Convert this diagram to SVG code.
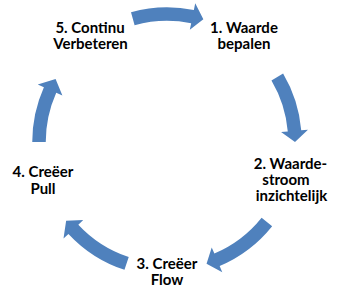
<svg xmlns="http://www.w3.org/2000/svg" width="345" height="298" viewBox="0 0 345 298">
<style>
.arrow{fill:#4F81BD;stroke:none}
.lbl{font-family:Lato,"Liberation Sans",sans-serif;font-weight:bold;font-size:15px;fill:#000;text-anchor:middle}
</style>
<rect width="345" height="298" fill="#fff"/>
<g id="connectors">
<path class="arrow" d="M131.0,12.16 A134.75,134.75 0 0 1 193.87,9.96 L195.22,3.34 L203.35,19.27 L189.83,29.8 L191.18,23.19 A121.25,121.25 0 0 0 134.6,25.16 Z"/>
<path class="arrow" d="M283.1,73.61 A134.75,134.75 0 0 1 301.24,130.25 L307.96,129.66 L295,142 L281.06,132.02 L287.79,131.43 A121.25,121.25 0 0 0 271.47,80.47 Z"/>
<path class="arrow" d="M272.16,226.25 A134.75,134.75 0 0 1 219.65,266.04 L222.28,272.25 L206.55,263.74 L211.73,247.4 L214.37,253.61 A121.25,121.25 0 0 0 261.62,217.81 Z"/>
<path class="arrow" d="M124.47,269.86 A134.75,134.75 0 0 1 68.44,233.9 L63.51,238.5 L66.14,220.81 L83.25,220.09 L78.32,224.69 A121.25,121.25 0 0 0 128.73,257.05 Z"/>
<path class="arrow" d="M32.25,142 A134.75,134.75 0 0 1 43.9,87.2 L37.74,84.45 L55.59,78.97 L62.4,95.43 L56.24,92.69 A121.25,121.25 0 0 0 45.75,142 Z"/>
</g>
<g id="node1"><text class="lbl" x="244" y="33">1. Waarde</text><text class="lbl" x="244" y="49">bepalen</text></g>
<g id="node2"><text class="lbl" x="290.5" y="169">2. Waarde-</text><text class="lbl" x="286" y="185">stroom</text><text class="lbl" x="291.5" y="201">inzichtelijk</text></g>
<g id="node3"><text class="lbl" x="167" y="269">3. Creëer</text><text class="lbl" x="167" y="285">Flow</text></g>
<g id="node4"><text class="lbl" x="43" y="177">4. Creëer</text><text class="lbl" x="43" y="194">Pull</text></g>
<g id="node5"><text class="lbl" x="90" y="33">5. Continu</text><text class="lbl" x="90.5" y="49">Verbeteren</text></g>
</svg>
